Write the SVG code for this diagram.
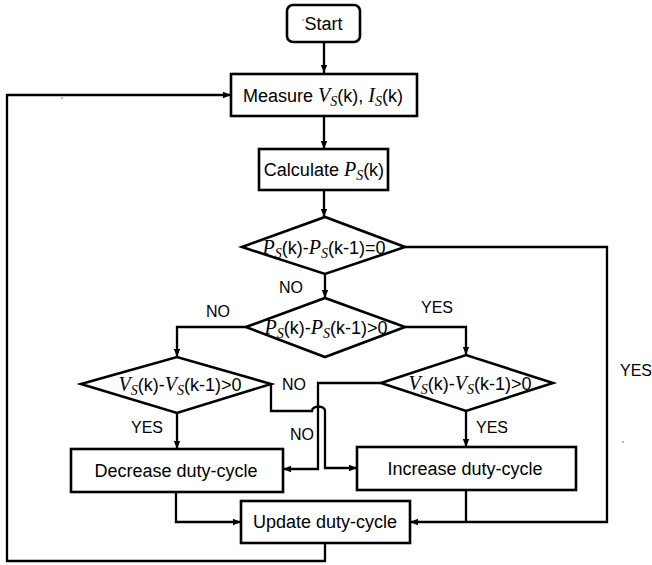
<svg xmlns="http://www.w3.org/2000/svg" width="652" height="565" viewBox="0 0 652 565">
<style>
.box{fill:#fff;stroke:#000;stroke-width:2.6}
.ln{fill:none;stroke:#000;stroke-width:2.3}
.t{font-family:"Liberation Sans",Arial,sans-serif;font-size:18px;fill:#000;text-anchor:middle}
.lb{font-family:"Liberation Sans",Arial,sans-serif;font-size:16px;fill:#000;text-anchor:middle}
.m{font-family:"Liberation Serif","Times New Roman",serif;font-style:italic;font-size:20px}
.s{font-family:"Liberation Serif","Times New Roman",serif;font-style:italic;font-size:14px}
.dot{fill:#666}
</style>
<defs>
<marker id="ar" markerWidth="8" markerHeight="8" refX="8" refY="4" orient="auto" markerUnits="userSpaceOnUse">
<path d="M0,0.8 L8,4 L0,7.2 z" fill="#000"/>
</marker>
</defs>
<rect width="652" height="565" fill="#fff"/>

<g id="connectors">
<path class="ln" d="M324,42 V73" marker-end="url(#ar)"/>
<path class="ln" d="M324,116 V149" marker-end="url(#ar)"/>
<path class="ln" d="M324,190 V217" marker-end="url(#ar)"/>
<path class="ln" d="M325,274 V298" marker-end="url(#ar)"/>
<path class="ln" d="M405,247 H607 V522 H410" marker-end="url(#ar)"/>
<path class="ln" d="M246,327 H177 V357" marker-end="url(#ar)"/>
<path class="ln" d="M405,327 H466 V355" marker-end="url(#ar)"/>
<path class="ln" d="M177,413 V449" marker-end="url(#ar)"/>
<path class="ln" d="M466,411 V447" marker-end="url(#ar)"/>
<path class="ln" d="M271,384 V411 H312 A6.5,4.5 0 0 1 325,411 V468 H357" marker-end="url(#ar)"/>
<path class="ln" d="M381,383 H318 V469 H283" marker-end="url(#ar)"/>
<path class="ln" d="M176,492 V522 H241" marker-end="url(#ar)"/>
<path class="ln" d="M466,490 V522"/>
<path class="ln" d="M325,543 V561 H7 V95 H231" marker-end="url(#ar)"/>
</g>

<g id="start">
<rect class="box" x="287" y="5" width="73" height="37" rx="6"/>
<text class="t" x="323.5" y="30">Start</text>
</g>

<g id="measure">
<rect class="box" x="231" y="74" width="186" height="42"/>
<text class="t" x="323" y="102">Measure <tspan class="m">V</tspan><tspan class="s" dy="4">S</tspan><tspan dy="-4">(k), </tspan><tspan class="m">I</tspan><tspan class="s" dy="4">S</tspan><tspan dy="-4">(k)</tspan></text>
</g>

<g id="calculate">
<rect class="box" x="259" y="149" width="129" height="41"/>
<text class="t" x="324" y="176">Calculate <tspan class="m">P</tspan><tspan class="s" dy="4">S</tspan><tspan dy="-4">(k)</tspan></text>
</g>

<g id="dec1">
<polygon class="box" points="242,247 325,217 405,247 325,274"/>
<text class="t" x="324" y="254"><tspan class="m">P</tspan><tspan class="s" dy="4">S</tspan><tspan dy="-4">(k)-</tspan><tspan class="m">P</tspan><tspan class="s" dy="4">S</tspan><tspan dy="-4">(k-1)=0</tspan></text>
</g>

<g id="dec2">
<polygon class="box" points="246,327 325,298 405,327 325,357"/>
<text class="t" x="326" y="334"><tspan class="m">P</tspan><tspan class="s" dy="4">S</tspan><tspan dy="-4">(k)-</tspan><tspan class="m">P</tspan><tspan class="s" dy="4">S</tspan><tspan dy="-4">(k-1)&gt;0</tspan></text>
</g>

<g id="dec3">
<polygon class="box" points="81,384 177,357 271,384 177,413"/>
<text class="t" x="180" y="391"><tspan class="m">V</tspan><tspan class="s" dy="4">S</tspan><tspan dy="-4">(k)-</tspan><tspan class="m">V</tspan><tspan class="s" dy="4">S</tspan><tspan dy="-4">(k-1)&gt;0</tspan></text>
</g>

<g id="dec4">
<polygon class="box" points="381,383 466,355 553,383 466,411"/>
<text class="t" x="470" y="390"><tspan class="m">V</tspan><tspan class="s" dy="4">S</tspan><tspan dy="-4">(k)-</tspan><tspan class="m">V</tspan><tspan class="s" dy="4">S</tspan><tspan dy="-4">(k-1)&gt;0</tspan></text>
</g>

<g id="decrease">
<rect class="box" x="71" y="449" width="212" height="43"/>
<text class="t" x="176" y="477">Decrease duty-cycle</text>
</g>

<g id="increase">
<rect class="box" x="357" y="447" width="219" height="43"/>
<text class="t" x="465" y="475">Increase duty-cycle</text>
</g>

<g id="update">
<rect class="box" x="241" y="501" width="169" height="42"/>
<text class="t" x="325" y="528">Update duty-cycle</text>
</g>

<g id="labels">
<text class="lb" x="291" y="293">NO</text>
<text class="lb" x="218" y="317">NO</text>
<text class="lb" x="437" y="313">YES</text>
<text class="lb" x="636" y="376">YES</text>
<text class="lb" x="294" y="390">NO</text>
<text class="lb" x="302" y="440">NO</text>
<text class="lb" x="147" y="433">YES</text>
<text class="lb" x="492" y="433">YES</text>
</g>

<circle class="dot" cx="303" cy="20" r="0.8"/>
<circle class="dot" cx="62" cy="98" r="0.8"/>
<circle class="dot" cx="623" cy="442" r="0.8"/>
</svg>
